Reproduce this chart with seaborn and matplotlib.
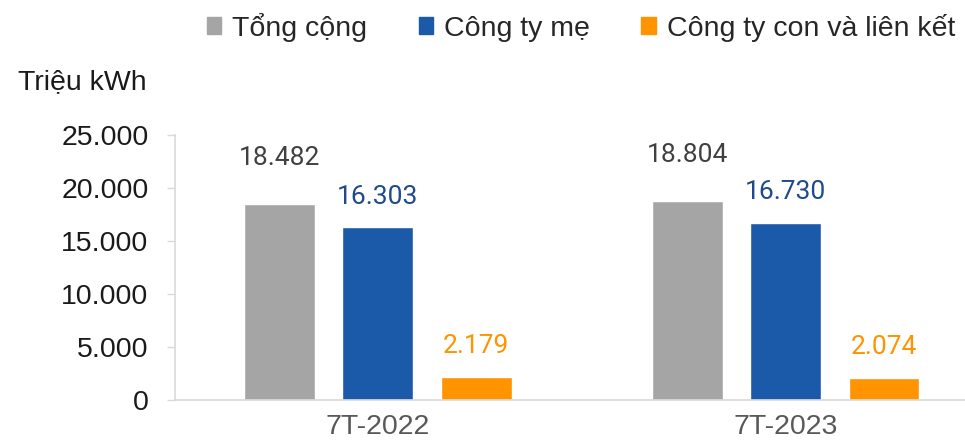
import pandas as pd
import matplotlib.pyplot as plt
import seaborn as sns

# Chart data
periods = ['7T-2022', '7T-2023']
series = ['Tổng cộng', 'Công ty mẹ', 'Công ty con và liên kết']
tong_cong = [18482, 18804]
cong_ty_me = [16303, 16730]
cong_ty_con = [2179, 2074]
y_ticks = [0, 5000, 10000, 15000, 20000, 25000]
y_tick_labels = ['0', '5.000', '10.000', '15.000', '20.000', '25.000']

bar_colors = ['#A5A5A5', '#1A5AA8', '#FF9300']
label_colors = ['#404040', '#1F4A8C', '#FF9300']


def fmt(v):
    return f"{v:,}".replace(',', '.')


def main():
    rows = []
    for name, vals in zip(series, [tong_cong, cong_ty_me, cong_ty_con]):
        for p, v in zip(periods, vals):
            rows.append({'Period': p, 'Series': name, 'Value': v})
    df = pd.DataFrame(rows)

    sns.set_theme(style="white")
    plt.rcParams['font.family'] = ['Liberation Sans', 'DejaVu Sans']

    fig = plt.figure(figsize=(9.65, 4.44), dpi=100)
    ax = fig.add_axes([175 / 965, 44 / 444, 790 / 965, 265 / 444])

    sns.barplot(data=df, x='Period', y='Value', hue='Series', order=periods,
                hue_order=series, palette=bar_colors, width=0.724, gap=0.28,
                saturation=1, ax=ax, legend=False)

    # Value labels above bars
    offsets = [33, 22, 22]
    for i, cont in enumerate(ax.containers):
        for bar in cont:
            h = bar.get_height()
            ax.annotate(fmt(int(h)), (bar.get_x() + bar.get_width() / 2, h),
                        xytext=(0, offsets[i]), textcoords='offset points',
                        ha='center', va='center', fontsize=19,
                        color=label_colors[i], family=['Roboto', 'DejaVu Sans'])

    ax.set_ylim(0, 25000)
    ax.set_xlim(-0.497, 1.44)
    ax.set_yticks(y_ticks)
    ax.set_yticklabels(y_tick_labels, fontsize=20.5, color='#1a1a1a')
    ax.tick_params(axis='x', labelsize=20.5, labelcolor='#595959', length=0, pad=10)
    ax.tick_params(axis='y', length=6, width=1, color='#D9D9D9', left=True, pad=13)
    ax.set_xlabel('')
    ax.set_ylabel('')
    for s in ['top', 'right']:
        ax.spines[s].set_visible(False)
    for s in ['left', 'bottom']:
        ax.spines[s].set_color('#D9D9D9')
        ax.spines[s].set_linewidth(1.2)

    fig.text(18 / 965, 1 - 82 / 444, 'Triệu kWh', fontsize=20.5, color='#1a1a1a',
             va='center', ha='left')

    # Legend
    handles = [plt.Rectangle((0, 0), 1, 1, color=c) for c in bar_colors]
    fig.legend(handles, series, loc='center', bbox_to_anchor=(581 / 965, 1 - 27 / 444),
               ncol=3, frameon=False, fontsize=20.5, handlelength=0.5, handleheight=0.5,
               handletextpad=0.4, columnspacing=1.8, borderpad=0, borderaxespad=0)

    fig.savefig('out.png', dpi=100)
    plt.close()


if __name__ == "__main__":
    main()
